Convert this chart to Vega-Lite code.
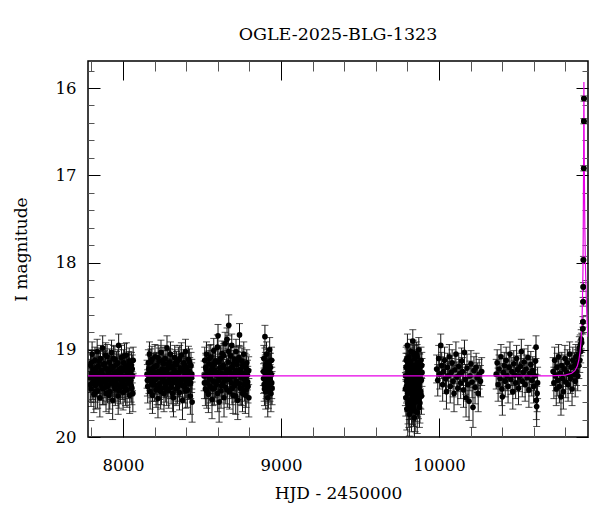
{
"$schema": "https://vega.github.io/schema/vega-lite/v6.json",
"width": 500, "height": 376,
"autosize": {"type": "none"},
"padding": {"left": 88, "top": 61, "right": 12, "bottom": 75},
"title": {"text": "OGLE-2025-BLG-1323", "font": "DejaVu Serif", "fontSize": 17.5, "fontWeight": "normal", "color": "black", "offset": 17},
"config": {
  "view": {"stroke": "black", "strokeWidth": 1.5},
  "axis": {"labelFont": "DejaVu Serif", "titleFont": "DejaVu Serif", "labelColor": "black", "titleColor": "black", "labelFontSize": 16.5, "titleFontSize": 17, "titleFontWeight": "normal", "domain": false, "grid": false, "tickWidth": 1, "labelFlush": false, "labelOverlap": false}
},
"datasets": {
"obs": [
{"t":7790,"m":19.32,"e":0.17},{"t":7794,"m":19.18,"e":0.15},{"t":7797,"m":19.45,"e":0.2},{"t":7801,"m":19.27,"e":0.16},{"t":7804,"m":19.05,"e":0.14},{"t":7808,"m":19.38,"e":0.19},{"t":7811,"m":19.22,"e":0.16},{"t":7815,"m":19.51,"e":0.21},{"t":7818,"m":19.3,"e":0.17},{"t":7822,"m":19.12,"e":0.15},
{"t":7825,"m":19.41,"e":0.19},{"t":7829,"m":19.25,"e":0.16},{"t":7832,"m":19.36,"e":0.18},{"t":7836,"m":19.02,"e":0.14},{"t":7839,"m":19.47,"e":0.2},{"t":7843,"m":19.19,"e":0.15},{"t":7846,"m":19.33,"e":0.17},{"t":7850,"m":19.28,"e":0.16},{"t":7853,"m":19.55,"e":0.22},{"t":7857,"m":19.1,"e":0.15},
{"t":7860,"m":19.4,"e":0.18},{"t":7864,"m":19.24,"e":0.16},{"t":7867,"m":19.35,"e":0.17},{"t":7871,"m":18.98,"e":0.14},{"t":7874,"m":19.29,"e":0.16},{"t":7878,"m":19.44,"e":0.19},{"t":7881,"m":19.16,"e":0.15},{"t":7885,"m":19.37,"e":0.18},{"t":7888,"m":19.21,"e":0.16},{"t":7892,"m":19.5,"e":0.21},
{"t":7895,"m":19.31,"e":0.17},{"t":7899,"m":19.08,"e":0.14},{"t":7902,"m":19.42,"e":0.19},{"t":7906,"m":19.26,"e":0.16},{"t":7909,"m":19.34,"e":0.17},{"t":7913,"m":19.14,"e":0.15},{"t":7916,"m":19.48,"e":0.2},{"t":7920,"m":19.23,"e":0.16},{"t":7923,"m":19.39,"e":0.18},{"t":7927,"m":19.03,"e":0.14},
{"t":7930,"m":19.3,"e":0.17},{"t":7934,"m":19.58,"e":0.22},{"t":7937,"m":19.2,"e":0.15},{"t":7941,"m":19.36,"e":0.18},{"t":7944,"m":19.27,"e":0.16},{"t":7948,"m":19.11,"e":0.15},{"t":7951,"m":19.45,"e":0.19},{"t":7955,"m":19.32,"e":0.17},{"t":7958,"m":19.17,"e":0.15},{"t":7962,"m":19.4,"e":0.19},
{"t":7965,"m":19.25,"e":0.16},{"t":7969,"m":19.53,"e":0.21},{"t":7972,"m":18.95,"e":0.13},{"t":7976,"m":19.33,"e":0.17},{"t":7979,"m":19.22,"e":0.16},{"t":7983,"m":19.43,"e":0.19},{"t":7986,"m":19.29,"e":0.17},{"t":7990,"m":19.09,"e":0.14},{"t":7993,"m":19.37,"e":0.18},{"t":7997,"m":19.24,"e":0.16},
{"t":8000,"m":19.49,"e":0.2},{"t":8004,"m":19.15,"e":0.15},{"t":8007,"m":19.31,"e":0.17},{"t":8011,"m":19.41,"e":0.19},{"t":8014,"m":19.19,"e":0.15},{"t":8018,"m":19.34,"e":0.17},{"t":8021,"m":19.06,"e":0.14},{"t":8025,"m":19.46,"e":0.2},{"t":8028,"m":19.28,"e":0.16},{"t":8032,"m":19.21,"e":0.16},
{"t":8035,"m":19.38,"e":0.18},{"t":8039,"m":19.13,"e":0.15},{"t":8042,"m":19.52,"e":0.21},{"t":8046,"m":19.26,"e":0.16},{"t":8049,"m":19.35,"e":0.18},{"t":8053,"m":19.18,"e":0.15},{"t":8056,"m":19.44,"e":0.19},{"t":8060,"m":19.3,"e":0.17},{"t":8064,"m":19.12,"e":0.15},
{"t":7792,"m":19.4,"e":0.19},{"t":7799,"m":19.15,"e":0.15},{"t":7806,"m":19.29,"e":0.17},{"t":7813,"m":19.36,"e":0.18},{"t":7820,"m":19.24,"e":0.16},{"t":7827,"m":19.48,"e":0.2},{"t":7834,"m":19.2,"e":0.16},{"t":7841,"m":19.33,"e":0.17},{"t":7848,"m":19.13,"e":0.15},{"t":7855,"m":19.38,"e":0.18},
{"t":7862,"m":19.27,"e":0.16},{"t":7869,"m":19.44,"e":0.19},{"t":7876,"m":19.17,"e":0.15},{"t":7883,"m":19.31,"e":0.17},{"t":7890,"m":19.06,"e":0.14},{"t":7897,"m":19.4,"e":0.19},{"t":7904,"m":19.23,"e":0.16},{"t":7911,"m":19.52,"e":0.21},{"t":7918,"m":19.3,"e":0.17},{"t":7925,"m":19.19,"e":0.15},
{"t":7932,"m":19.35,"e":0.18},{"t":7939,"m":19.1,"e":0.15},{"t":7946,"m":19.42,"e":0.19},{"t":7953,"m":19.26,"e":0.16},{"t":7960,"m":19.34,"e":0.17},{"t":7967,"m":19.15,"e":0.15},{"t":7974,"m":19.47,"e":0.2},{"t":7981,"m":19.28,"e":0.17},{"t":7988,"m":19.21,"e":0.16},{"t":7995,"m":19.39,"e":0.18},
{"t":8002,"m":19.32,"e":0.17},{"t":8009,"m":19.07,"e":0.14},{"t":8016,"m":19.45,"e":0.19},{"t":8023,"m":19.25,"e":0.16},{"t":8030,"m":19.36,"e":0.18},{"t":8037,"m":19.17,"e":0.15},{"t":8044,"m":19.3,"e":0.17},{"t":8051,"m":19.41,"e":0.19},{"t":8058,"m":19.22,"e":0.16},{"t":8062,"m":19.5,"e":0.21},
{"t":8152,"m":19.28,"e":0.16},{"t":8156,"m":19.42,"e":0.19},{"t":8160,"m":19.15,"e":0.15},{"t":8164,"m":19.33,"e":0.17},{"t":8167,"m":19.05,"e":0.14},{"t":8171,"m":19.48,"e":0.2},{"t":8175,"m":19.24,"e":0.16},{"t":8179,"m":19.37,"e":0.18},{"t":8183,"m":19.11,"e":0.15},{"t":8186,"m":19.52,"e":0.21},
{"t":8190,"m":19.29,"e":0.17},{"t":8194,"m":19.2,"e":0.16},{"t":8198,"m":19.4,"e":0.19},{"t":8202,"m":19.08,"e":0.14},{"t":8205,"m":19.34,"e":0.17},{"t":8209,"m":19.46,"e":0.2},{"t":8213,"m":19.18,"e":0.15},{"t":8217,"m":19.31,"e":0.17},{"t":8221,"m":19.56,"e":0.22},{"t":8224,"m":19.25,"e":0.16},
{"t":8228,"m":19.13,"e":0.15},{"t":8232,"m":19.39,"e":0.18},{"t":8236,"m":19.27,"e":0.16},{"t":8240,"m":19.03,"e":0.14},{"t":8243,"m":19.44,"e":0.19},{"t":8247,"m":19.22,"e":0.16},{"t":8251,"m":19.35,"e":0.18},{"t":8255,"m":19.16,"e":0.15},{"t":8259,"m":19.5,"e":0.21},{"t":8262,"m":19.3,"e":0.17},
{"t":8266,"m":19.1,"e":0.15},{"t":8270,"m":19.41,"e":0.19},{"t":8274,"m":19.26,"e":0.16},{"t":8278,"m":18.98,"e":0.14},{"t":8281,"m":19.36,"e":0.18},{"t":8285,"m":19.21,"e":0.16},{"t":8289,"m":19.47,"e":0.2},{"t":8293,"m":19.14,"e":0.15},{"t":8297,"m":19.32,"e":0.17},{"t":8300,"m":19.05,"e":0.14},
{"t":8304,"m":19.43,"e":0.19},{"t":8308,"m":19.28,"e":0.17},{"t":8312,"m":19.19,"e":0.15},{"t":8316,"m":19.38,"e":0.18},{"t":8319,"m":19.55,"e":0.22},{"t":8323,"m":19.23,"e":0.16},{"t":8327,"m":19.09,"e":0.14},{"t":8331,"m":19.34,"e":0.17},{"t":8335,"m":19.45,"e":0.19},{"t":8338,"m":19.17,"e":0.15},
{"t":8342,"m":19.3,"e":0.17},{"t":8346,"m":19.4,"e":0.19},{"t":8350,"m":19.12,"e":0.15},{"t":8354,"m":19.26,"e":0.16},{"t":8357,"m":19.49,"e":0.2},{"t":8361,"m":19.21,"e":0.16},{"t":8365,"m":19.36,"e":0.18},{"t":8369,"m":19.06,"e":0.14},{"t":8373,"m":19.33,"e":0.17},{"t":8376,"m":19.58,"e":0.22},
{"t":8380,"m":19.24,"e":0.16},{"t":8384,"m":19.15,"e":0.15},{"t":8388,"m":19.42,"e":0.19},{"t":8392,"m":19.29,"e":0.17},{"t":8395,"m":19.02,"e":0.14},{"t":8399,"m":19.37,"e":0.18},{"t":8403,"m":19.2,"e":0.16},{"t":8407,"m":19.46,"e":0.2},{"t":8411,"m":19.31,"e":0.17},{"t":8414,"m":19.11,"e":0.15},
{"t":8418,"m":19.39,"e":0.18},{"t":8422,"m":19.25,"e":0.16},{"t":8426,"m":19.53,"e":0.21},{"t":8430,"m":19.18,"e":0.15},{"t":8434,"m":19.32,"e":0.17},{"t":8437,"m":19.6,"e":0.23},
{"t":8154,"m":19.35,"e":0.18},{"t":8162,"m":19.22,"e":0.16},{"t":8169,"m":19.3,"e":0.17},{"t":8177,"m":19.14,"e":0.15},{"t":8185,"m":19.4,"e":0.19},{"t":8192,"m":19.33,"e":0.17},{"t":8200,"m":19.26,"e":0.16},{"t":8207,"m":19.19,"e":0.15},{"t":8215,"m":19.44,"e":0.19},{"t":8222,"m":19.09,"e":0.14},
{"t":8230,"m":19.31,"e":0.17},{"t":8238,"m":19.48,"e":0.2},{"t":8245,"m":19.28,"e":0.17},{"t":8253,"m":19.12,"e":0.15},{"t":8260,"m":19.37,"e":0.18},{"t":8268,"m":19.23,"e":0.16},{"t":8276,"m":19.45,"e":0.19},{"t":8283,"m":19.16,"e":0.15},{"t":8291,"m":19.29,"e":0.17},{"t":8299,"m":19.38,"e":0.18},
{"t":8306,"m":19.2,"e":0.16},{"t":8314,"m":19.5,"e":0.21},{"t":8321,"m":19.32,"e":0.17},{"t":8329,"m":19.15,"e":0.15},{"t":8337,"m":19.27,"e":0.16},{"t":8344,"m":19.43,"e":0.19},{"t":8352,"m":19.36,"e":0.18},{"t":8359,"m":19.1,"e":0.15},{"t":8367,"m":19.24,"e":0.16},{"t":8375,"m":19.41,"e":0.19},
{"t":8382,"m":19.33,"e":0.17},{"t":8390,"m":19.18,"e":0.15},{"t":8397,"m":19.47,"e":0.2},{"t":8405,"m":19.26,"e":0.16},{"t":8413,"m":19.35,"e":0.18},{"t":8420,"m":19.14,"e":0.15},{"t":8428,"m":19.38,"e":0.18},{"t":8435,"m":19.28,"e":0.17},
{"t":8513,"m":19.3,"e":0.17},{"t":8517,"m":19.12,"e":0.15},{"t":8521,"m":19.45,"e":0.19},{"t":8525,"m":19.22,"e":0.16},{"t":8528,"m":19.05,"e":0.14},{"t":8532,"m":19.38,"e":0.18},{"t":8536,"m":19.26,"e":0.16},{"t":8540,"m":19.51,"e":0.21},{"t":8544,"m":19.16,"e":0.15},{"t":8547,"m":19.33,"e":0.17},
{"t":8551,"m":19.42,"e":0.19},{"t":8555,"m":19.08,"e":0.14},{"t":8559,"m":19.28,"e":0.17},{"t":8563,"m":19.57,"e":0.22},{"t":8566,"m":19.19,"e":0.15},{"t":8570,"m":19.36,"e":0.18},{"t":8574,"m":19.01,"e":0.14},{"t":8578,"m":19.44,"e":0.19},{"t":8582,"m":19.24,"e":0.16},{"t":8585,"m":19.13,"e":0.15},
{"t":8589,"m":19.4,"e":0.19},{"t":8593,"m":19.29,"e":0.17},{"t":8597,"m":18.97,"e":0.14},{"t":8601,"m":18.84,"e":0.13},{"t":8604,"m":19.35,"e":0.18},{"t":8608,"m":19.6,"e":0.23},{"t":8612,"m":19.21,"e":0.16},{"t":8616,"m":19.1,"e":0.15},{"t":8620,"m":19.47,"e":0.2},{"t":8623,"m":19.27,"e":0.16},
{"t":8627,"m":19.04,"e":0.14},{"t":8631,"m":19.39,"e":0.18},{"t":8635,"m":19.18,"e":0.15},{"t":8639,"m":19.55,"e":0.22},{"t":8642,"m":19.31,"e":0.17},{"t":8646,"m":18.93,"e":0.13},{"t":8650,"m":19.43,"e":0.19},{"t":8654,"m":19.23,"e":0.16},{"t":8658,"m":18.88,"e":0.13},{"t":8661,"m":19.34,"e":0.17},
{"t":8665,"m":19.14,"e":0.15},{"t":8669,"m":18.72,"e":0.12},{"t":8673,"m":19.48,"e":0.2},{"t":8677,"m":19.26,"e":0.16},{"t":8680,"m":19.07,"e":0.14},{"t":8684,"m":19.38,"e":0.18},{"t":8688,"m":18.95,"e":0.13},{"t":8692,"m":19.2,"e":0.16},{"t":8696,"m":19.52,"e":0.21},{"t":8699,"m":19.3,"e":0.17},
{"t":8703,"m":19.11,"e":0.15},{"t":8707,"m":19.41,"e":0.19},{"t":8711,"m":19.25,"e":0.16},{"t":8715,"m":19.02,"e":0.14},{"t":8718,"m":19.36,"e":0.18},{"t":8722,"m":19.17,"e":0.15},{"t":8726,"m":19.58,"e":0.22},{"t":8730,"m":19.28,"e":0.17},{"t":8734,"m":19.09,"e":0.14},{"t":8737,"m":18.83,"e":0.13},
{"t":8741,"m":19.44,"e":0.19},{"t":8745,"m":19.22,"e":0.16},{"t":8749,"m":19.32,"e":0.17},{"t":8753,"m":19.13,"e":0.15},{"t":8756,"m":19.5,"e":0.21},{"t":8760,"m":19.27,"e":0.16},{"t":8764,"m":19.05,"e":0.14},{"t":8768,"m":19.4,"e":0.19},{"t":8772,"m":19.19,"e":0.15},{"t":8775,"m":19.35,"e":0.18},
{"t":8779,"m":19.46,"e":0.2},{"t":8783,"m":19.15,"e":0.15},{"t":8787,"m":19.29,"e":0.17},{"t":8791,"m":19.42,"e":0.19},{"t":8795,"m":19.24,"e":0.16},
{"t":8515,"m":19.38,"e":0.18},{"t":8523,"m":19.2,"e":0.16},{"t":8530,"m":19.47,"e":0.2},{"t":8538,"m":19.29,"e":0.17},{"t":8545,"m":19.1,"e":0.15},{"t":8553,"m":19.33,"e":0.17},{"t":8561,"m":19.23,"e":0.16},{"t":8568,"m":19.45,"e":0.19},{"t":8576,"m":19.16,"e":0.15},{"t":8584,"m":19.37,"e":0.18},
{"t":8591,"m":19.26,"e":0.16},{"t":8599,"m":19.5,"e":0.21},{"t":8606,"m":19.14,"e":0.15},{"t":8614,"m":19.32,"e":0.17},{"t":8622,"m":19.41,"e":0.19},{"t":8629,"m":19.2,"e":0.16},{"t":8637,"m":19.07,"e":0.14},{"t":8644,"m":19.35,"e":0.18},{"t":8652,"m":19.28,"e":0.17},{"t":8660,"m":19.46,"e":0.2},
{"t":8667,"m":19.02,"e":0.14},{"t":8675,"m":19.33,"e":0.17},{"t":8682,"m":19.21,"e":0.16},{"t":8690,"m":19.44,"e":0.19},{"t":8698,"m":19.16,"e":0.15},{"t":8705,"m":19.3,"e":0.17},{"t":8713,"m":19.53,"e":0.21},{"t":8720,"m":19.24,"e":0.16},{"t":8728,"m":19.12,"e":0.15},{"t":8736,"m":19.39,"e":0.18},
{"t":8743,"m":19.27,"e":0.16},{"t":8751,"m":19.45,"e":0.19},{"t":8758,"m":19.18,"e":0.15},{"t":8766,"m":19.33,"e":0.17},{"t":8774,"m":19.52,"e":0.21},{"t":8781,"m":19.22,"e":0.16},{"t":8789,"m":19.37,"e":0.18},{"t":8796,"m":19.55,"e":0.22},
{"t":8888,"m":19.25,"e":0.16},{"t":8891,"m":19.1,"e":0.15},{"t":8893,"m":19.4,"e":0.19},{"t":8896,"m":19.32,"e":0.17},{"t":8898,"m":18.85,"e":0.13},{"t":8901,"m":19.18,"e":0.15},{"t":8903,"m":19.48,"e":0.2},{"t":8906,"m":19.28,"e":0.17},{"t":8908,"m":19.05,"e":0.14},{"t":8911,"m":19.36,"e":0.18},
{"t":8913,"m":19.22,"e":0.16},{"t":8916,"m":19.55,"e":0.22},{"t":8918,"m":19.3,"e":0.17},{"t":8921,"m":19.14,"e":0.15},{"t":8923,"m":19.42,"e":0.19},{"t":8926,"m":19.26,"e":0.16},{"t":8928,"m":19.0,"e":0.14},{"t":8931,"m":19.34,"e":0.17},{"t":8933,"m":19.2,"e":0.16},{"t":8936,"m":19.5,"e":0.21},{"t":8938,"m":19.29,"e":0.17},{"t":8941,"m":19.38,"e":0.18},
{"t":8889,"m":19.33,"e":0.17},{"t":8895,"m":19.45,"e":0.19},{"t":8900,"m":19.22,"e":0.16},{"t":8905,"m":19.38,"e":0.18},{"t":8910,"m":19.15,"e":0.15},{"t":8915,"m":19.3,"e":0.17},{"t":8920,"m":19.47,"e":0.2},{"t":8925,"m":19.19,"e":0.15},{"t":8930,"m":19.4,"e":0.19},{"t":8935,"m":19.27,"e":0.16},{"t":8940,"m":19.12,"e":0.15},{"t":8943,"m":19.44,"e":0.19},
{"t":9788,"m":19.3,"e":0.17},{"t":9790,"m":19.55,"e":0.21},{"t":9792,"m":19.12,"e":0.15},{"t":9794,"m":19.42,"e":0.19},{"t":9796,"m":19.68,"e":0.24},{"t":9798,"m":19.2,"e":0.16},{"t":9800,"m":18.95,"e":0.13},{"t":9802,"m":19.35,"e":0.18},{"t":9804,"m":19.62,"e":0.23},{"t":9806,"m":19.25,"e":0.16},
{"t":9808,"m":19.48,"e":0.2},{"t":9810,"m":19.08,"e":0.14},{"t":9812,"m":19.74,"e":0.25},{"t":9814,"m":19.38,"e":0.18},{"t":9816,"m":19.16,"e":0.15},{"t":9818,"m":19.58,"e":0.22},{"t":9820,"m":19.28,"e":0.17},{"t":9822,"m":19.02,"e":0.14},{"t":9824,"m":19.45,"e":0.19},{"t":9826,"m":19.7,"e":0.24},
{"t":9828,"m":19.22,"e":0.16},{"t":9830,"m":19.33,"e":0.17},{"t":9832,"m":19.52,"e":0.21},{"t":9834,"m":18.9,"e":0.13},{"t":9836,"m":19.4,"e":0.19},{"t":9838,"m":19.65,"e":0.23},{"t":9840,"m":19.18,"e":0.15},{"t":9842,"m":19.29,"e":0.17},{"t":9844,"m":19.78,"e":0.25},{"t":9846,"m":19.1,"e":0.15},
{"t":9848,"m":19.46,"e":0.2},{"t":9850,"m":19.35,"e":0.18},{"t":9852,"m":19.6,"e":0.22},{"t":9854,"m":19.24,"e":0.16},{"t":9856,"m":19.05,"e":0.14},{"t":9858,"m":19.5,"e":0.21},{"t":9860,"m":19.31,"e":0.17},{"t":9862,"m":19.72,"e":0.24},{"t":9864,"m":19.15,"e":0.15},{"t":9866,"m":19.42,"e":0.19},
{"t":9868,"m":19.27,"e":0.16},{"t":9870,"m":19.57,"e":0.22},{"t":9872,"m":19.0,"e":0.14},{"t":9874,"m":19.38,"e":0.18},{"t":9876,"m":19.66,"e":0.23},{"t":9878,"m":19.21,"e":0.16},{"t":9880,"m":19.47,"e":0.2},{"t":9883,"m":19.33,"e":0.17},{"t":9886,"m":19.12,"e":0.15},{"t":9889,"m":19.53,"e":0.21},{"t":9892,"m":19.26,"e":0.16},
{"t":9799,"m":19.4,"e":0.19},{"t":9803,"m":19.14,"e":0.15},{"t":9807,"m":19.33,"e":0.17},{"t":9811,"m":19.58,"e":0.22},{"t":9815,"m":19.27,"e":0.16},{"t":9819,"m":19.44,"e":0.19},{"t":9823,"m":19.19,"e":0.15},{"t":9827,"m":19.36,"e":0.18},{"t":9831,"m":19.63,"e":0.23},{"t":9835,"m":19.22,"e":0.16},
{"t":9839,"m":19.47,"e":0.2},{"t":9843,"m":19.06,"e":0.14},{"t":9847,"m":19.31,"e":0.17},{"t":9851,"m":19.54,"e":0.21},{"t":9855,"m":19.4,"e":0.19},{"t":9859,"m":19.17,"e":0.15},{"t":9863,"m":19.45,"e":0.19},
{"t":9787,"m":19.45,"e":0.19},{"t":9791,"m":19.2,"e":0.16},{"t":9795,"m":19.36,"e":0.18},{"t":9797,"m":19.1,"e":0.15},{"t":9801,"m":19.5,"e":0.21},{"t":9805,"m":19.29,"e":0.17},{"t":9809,"m":19.66,"e":0.23},{"t":9813,"m":19.22,"e":0.16},{"t":9817,"m":19.4,"e":0.19},{"t":9821,"m":19.13,"e":0.15},
{"t":9825,"m":19.32,"e":0.17},{"t":9829,"m":19.57,"e":0.22},{"t":9833,"m":19.26,"e":0.16},{"t":9837,"m":19.03,"e":0.14},{"t":9841,"m":19.49,"e":0.2},{"t":9845,"m":19.34,"e":0.18},{"t":9849,"m":19.7,"e":0.24},{"t":9853,"m":19.19,"e":0.15},{"t":9857,"m":19.37,"e":0.18},{"t":9861,"m":19.08,"e":0.14},
{"t":9865,"m":19.55,"e":0.22},{"t":9867,"m":19.3,"e":0.17},{"t":9871,"m":19.43,"e":0.19},{"t":9875,"m":19.2,"e":0.16},{"t":9879,"m":19.61,"e":0.23},{"t":9882,"m":19.28,"e":0.17},{"t":9885,"m":19.48,"e":0.2},{"t":9888,"m":19.35,"e":0.18},{"t":9891,"m":19.18,"e":0.15},
{"t":9985,"m":19.22,"e":0.16},{"t":9992,"m":19.35,"e":0.18},{"t":9998,"m":19.1,"e":0.15},{"t":10004,"m":19.28,"e":0.17},{"t":10011,"m":18.95,"e":0.13},{"t":10017,"m":19.18,"e":0.15},{"t":10023,"m":19.4,"e":0.19},{"t":10029,"m":19.25,"e":0.16},{"t":10035,"m":19.12,"e":0.15},{"t":10041,"m":19.33,"e":0.17},
{"t":10047,"m":19.48,"e":0.2},{"t":10053,"m":19.2,"e":0.16},{"t":10059,"m":19.3,"e":0.17},{"t":10065,"m":19.08,"e":0.14},{"t":10071,"m":19.42,"e":0.19},{"t":10077,"m":19.26,"e":0.16},{"t":10083,"m":19.15,"e":0.15},{"t":10089,"m":19.36,"e":0.18},{"t":10095,"m":19.5,"e":0.21},{"t":10101,"m":19.23,"e":0.16},
{"t":10107,"m":19.05,"e":0.14},{"t":10113,"m":19.31,"e":0.17},{"t":10119,"m":19.44,"e":0.19},{"t":10125,"m":19.19,"e":0.15},{"t":10131,"m":19.28,"e":0.17},{"t":10137,"m":19.38,"e":0.18},{"t":10143,"m":19.13,"e":0.15},{"t":10149,"m":19.25,"e":0.16},{"t":10155,"m":19.46,"e":0.2},{"t":10161,"m":19.03,"e":0.14},
{"t":10167,"m":19.34,"e":0.17},{"t":10171,"m":19.55,"e":0.22},{"t":10177,"m":19.21,"e":0.16},{"t":10183,"m":19.4,"e":0.19},{"t":10190,"m":19.59,"e":0.22},{"t":10196,"m":19.3,"e":0.17},{"t":10202,"m":19.16,"e":0.15},{"t":10209,"m":19.37,"e":0.18},{"t":10215,"m":19.66,"e":0.23},{"t":10221,"m":19.24,"e":0.16},
{"t":10228,"m":19.43,"e":0.19},{"t":10235,"m":19.2,"e":0.16},{"t":10242,"m":19.32,"e":0.17},{"t":10248,"m":19.5,"e":0.21},{"t":10254,"m":19.28,"e":0.17},{"t":10262,"m":19.36,"e":0.18},{"t":10270,"m":19.25,"e":0.16},
{"t":10362,"m":19.28,"e":0.17},{"t":10368,"m":19.15,"e":0.15},{"t":10374,"m":19.4,"e":0.19},{"t":10380,"m":19.22,"e":0.16},{"t":10386,"m":19.33,"e":0.17},{"t":10392,"m":19.08,"e":0.14},{"t":10398,"m":19.45,"e":0.19},{"t":10401,"m":19.54,"e":0.21},{"t":10407,"m":19.26,"e":0.16},{"t":10413,"m":19.18,"e":0.15},
{"t":10419,"m":19.36,"e":0.18},{"t":10425,"m":19.12,"e":0.15},{"t":10431,"m":19.3,"e":0.17},{"t":10437,"m":19.42,"e":0.19},{"t":10443,"m":19.2,"e":0.16},{"t":10449,"m":19.05,"e":0.14},{"t":10455,"m":19.34,"e":0.17},{"t":10461,"m":19.25,"e":0.16},{"t":10467,"m":19.48,"e":0.2},{"t":10473,"m":19.16,"e":0.15},
{"t":10479,"m":19.29,"e":0.17},{"t":10485,"m":19.38,"e":0.18},{"t":10491,"m":19.1,"e":0.15},{"t":10497,"m":19.23,"e":0.16},{"t":10503,"m":19.44,"e":0.19},{"t":10509,"m":19.31,"e":0.17},{"t":10515,"m":19.19,"e":0.15},{"t":10521,"m":19.02,"e":0.14},{"t":10527,"m":19.36,"e":0.18},{"t":10533,"m":19.26,"e":0.16},
{"t":10539,"m":19.14,"e":0.15},{"t":10545,"m":19.4,"e":0.19},{"t":10551,"m":19.22,"e":0.16},{"t":10557,"m":19.32,"e":0.17},{"t":10563,"m":19.09,"e":0.14},{"t":10569,"m":19.46,"e":0.2},{"t":10575,"m":19.27,"e":0.16},{"t":10581,"m":19.17,"e":0.15},{"t":10587,"m":19.35,"e":0.18},{"t":10593,"m":19.24,"e":0.16},
{"t":10599,"m":19.42,"e":0.19},{"t":10605,"m":19.3,"e":0.17},{"t":10611,"m":19.13,"e":0.15},{"t":10614,"m":18.97,"e":0.13},{"t":10616,"m":19.58,"e":0.22},{"t":10618,"m":19.65,"e":0.23},{"t":10621,"m":19.5,"e":0.21},{"t":10624,"m":19.38,"e":0.18},
{"t":10722,"m":19.25,"e":0.16},{"t":10727,"m":19.38,"e":0.18},{"t":10732,"m":19.12,"e":0.15},{"t":10737,"m":19.3,"e":0.17},{"t":10742,"m":19.45,"e":0.19},{"t":10747,"m":19.2,"e":0.16},{"t":10752,"m":19.35,"e":0.18},{"t":10757,"m":19.08,"e":0.14},{"t":10762,"m":19.42,"e":0.19},{"t":10767,"m":19.27,"e":0.16},
{"t":10772,"m":19.54,"e":0.21},{"t":10777,"m":19.18,"e":0.15},{"t":10782,"m":19.33,"e":0.17},{"t":10787,"m":19.48,"e":0.2},{"t":10792,"m":19.22,"e":0.16},{"t":10797,"m":19.1,"e":0.15},{"t":10802,"m":19.37,"e":0.18},{"t":10807,"m":19.26,"e":0.16},{"t":10812,"m":19.15,"e":0.15},{"t":10817,"m":19.4,"e":0.19},
{"t":10822,"m":19.28,"e":0.17},{"t":10827,"m":19.05,"e":0.14},{"t":10832,"m":19.33,"e":0.17},{"t":10837,"m":19.2,"e":0.16},{"t":10842,"m":19.45,"e":0.19},{"t":10847,"m":19.12,"e":0.15},{"t":10852,"m":19.28,"e":0.17},{"t":10857,"m":19.18,"e":0.15},{"t":10862,"m":19.36,"e":0.18},{"t":10866,"m":19.08,"e":0.14},
{"t":10870,"m":19.25,"e":0.16},{"t":10874,"m":19.15,"e":0.15},{"t":10878,"m":19.3,"e":0.17},{"t":10882,"m":19.05,"e":0.14},{"t":10885,"m":19.18,"e":0.15},{"t":10888,"m":18.98,"e":0.13},{"t":10891,"m":19.12,"e":0.14},{"t":10894,"m":18.95,"e":0.12},{"t":10897,"m":19.02,"e":0.13},{"t":10900,"m":18.88,"e":0.11},{"t":10903,"m":18.92,"e":0.11},
{"t":10910,"m":18.76,"e":0.06},{"t":10911,"m":18.68,"e":0.06},{"t":10912,"m":18.45,"e":0.05},{"t":10913,"m":18.28,"e":0.05},{"t":10914,"m":17.97,"e":0.04},{"t":10916,"m":16.92,"e":0.03},{"t":10917,"m":16.38,"e":0.03},{"t":10917.5,"m":16.12,"e":0.03}
],
"model": [
{"t":7778,"m":19.3},{"t":10700,"m":19.3},{"t":10800,"m":19.29},{"t":10840,"m":19.27},{"t":10860,"m":19.24},{"t":10875,"m":19.19},{"t":10885,"m":19.12},{"t":10893,"m":19.02},{"t":10899,"m":18.9},{"t":10904,"m":18.72},{"t":10908,"m":18.45},{"t":10911,"m":18.1},{"t":10913,"m":17.6},{"t":10915,"m":16.9},{"t":10916,"m":16.4},{"t":10917,"m":15.93},{"t":10918,"m":16.3},{"t":10920,"m":17.0},{"t":10923,"m":17.6},{"t":10927,"m":18.05},{"t":10932,"m":18.4},{"t":10937,"m":18.65},{"t":10943,"m":18.85}
]
},
"layer": [
{
 "data": {"name": "obs"},
 "mark": {"type": "errorbar", "ticks": {"size": 7, "color": "black"}, "rule": {"color": "#111111", "strokeWidth": 1}, "clip": true},
 "encoding": {
  "x": {"field": "t", "type": "quantitative", "scale": {"domain": [7778, 10943], "nice": false, "zero": false},
   "axis": {"orient": "bottom", "title": "HJD - 2450000", "format": "d", "values": [8000, 9000, 10000], "tickSize": -19, "tickColor": "black", "labelPadding": 39, "titlePadding": 12}},
  "y": {"field": "m", "type": "quantitative", "scale": {"domain": [15.69, 20], "reverse": true, "nice": false, "zero": false},
   "axis": {"orient": "left", "title": "I magnitude", "format": "d", "values": [16, 17, 18, 19, 20], "tickSize": -12, "tickColor": "black", "labelPadding": 24, "titlePadding": 25}},
  "yError": {"field": "e"}
 }
},
{
 "data": {"name": "obs"},
 "mark": {"type": "point", "filled": true, "size": 32, "color": "black", "opacity": 1, "clip": true},
 "encoding": {
  "x": {"field": "t", "type": "quantitative",
   "axis": {"orient": "bottom", "title": null, "labels": false, "tickSize": -10, "tickColor": "#555555",
    "values": [7800,8200,8400,8600,8800,9200,9400,9600,9800,10200,10400,10600,10800]}},
  "y": {"field": "m", "type": "quantitative",
   "axis": {"orient": "left", "title": null, "labels": false, "tickSize": -6, "tickColor": "#555555",
    "values": [15.8,16.2,16.4,16.6,16.8,17.2,17.4,17.6,17.8,18.2,18.4,18.6,18.8,19.2,19.4,19.6,19.8]}}
 }
},
{
 "data": {"name": "model"},
 "mark": {"type": "line", "color": "#e600e6", "strokeWidth": 1.2, "clip": true},
 "encoding": {
  "x": {"field": "t", "type": "quantitative",
   "axis": {"orient": "top", "title": null, "labels": false, "tickSize": -19, "tickColor": "black", "values": [8000, 9000, 10000]}},
  "y": {"field": "m", "type": "quantitative",
   "axis": {"orient": "right", "title": null, "labels": false, "tickSize": -12, "tickColor": "black", "values": [16, 17, 18, 19, 20]}}
 }
},
{
 "data": {"name": "obs"},
 "transform": [{"filter": "datum.t > 10909"}],
 "mark": {"type": "point", "filled": true, "size": 32, "color": "black", "opacity": 1, "clip": true},
 "encoding": {
  "x": {"field": "t", "type": "quantitative",
   "axis": {"orient": "top", "title": null, "labels": false, "tickSize": -10, "tickColor": "#555555",
    "values": [7800,8200,8400,8600,8800,9200,9400,9600,9800,10200,10400,10600,10800]}},
  "y": {"field": "m", "type": "quantitative",
   "axis": {"orient": "right", "title": null, "labels": false, "tickSize": -6, "tickColor": "#555555",
    "values": [15.8,16.2,16.4,16.6,16.8,17.2,17.4,17.6,17.8,18.2,18.4,18.6,18.8,19.2,19.4,19.6,19.8]}}
 }
}
],
"resolve": {"axis": {"x": "independent", "y": "independent"}}
}
